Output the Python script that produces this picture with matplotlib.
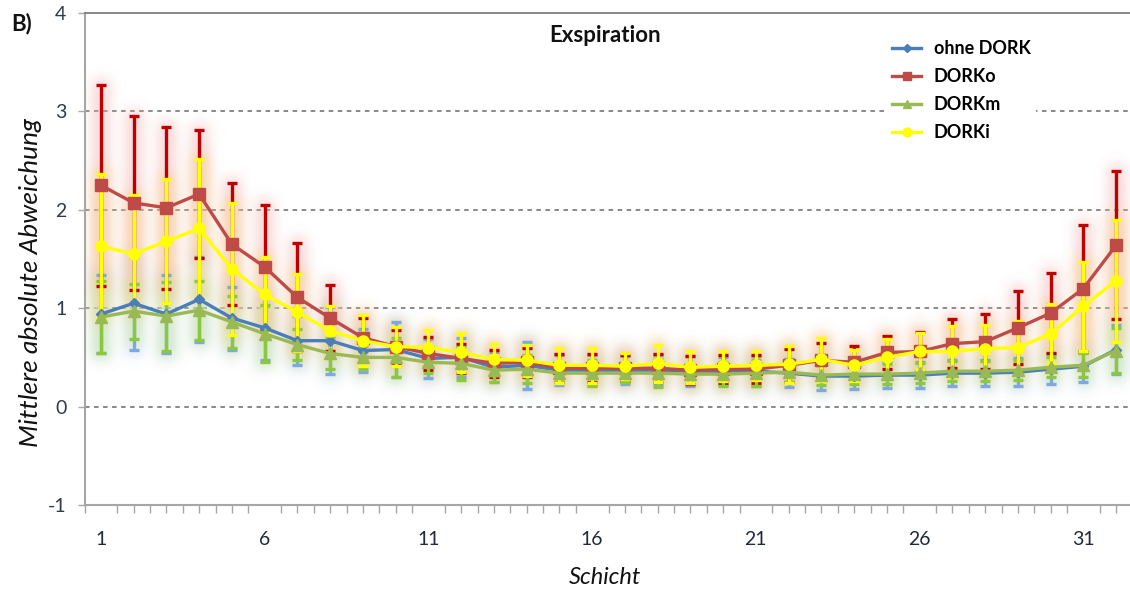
import numpy as np
import matplotlib
matplotlib.use("Agg")
import matplotlib.pyplot as plt
from matplotlib.colors import to_rgb

plt.rcParams['font.family'] = ['Lato', 'DejaVu Sans']

# Schicht (slice index)
schicht = list(range(1, 33))

# mean absolute deviation per slice and its standard deviation
ohne_dork = [0.94, 1.05, 0.94, 1.09, 0.90, 0.80, 0.67, 0.67, 0.57, 0.58, 0.49, 0.50,
             0.40, 0.42, 0.37, 0.37, 0.37, 0.37, 0.36, 0.36, 0.36, 0.34, 0.31, 0.31,
             0.32, 0.32, 0.34, 0.34, 0.35, 0.38, 0.41, 0.58]
ohne_dork_sd = [0.40, 0.47, 0.40, 0.43, 0.32, 0.33, 0.25, 0.34, 0.22, 0.28, 0.20, 0.20,
                0.15, 0.24, 0.15, 0.15, 0.14, 0.15, 0.15, 0.14, 0.15, 0.14, 0.14, 0.13,
                0.13, 0.13, 0.13, 0.13, 0.14, 0.15, 0.16, 0.25]

dorko = [2.25, 2.07, 2.02, 2.16, 1.65, 1.42, 1.11, 0.90, 0.70, 0.61, 0.54, 0.49,
         0.44, 0.45, 0.39, 0.39, 0.39, 0.39, 0.37, 0.38, 0.38, 0.42, 0.47, 0.45,
         0.55, 0.56, 0.64, 0.66, 0.80, 0.95, 1.20, 1.64]
dorko_sd = [1.02, 0.88, 0.82, 0.65, 0.62, 0.63, 0.55, 0.34, 0.20, 0.17, 0.17, 0.15,
            0.14, 0.15, 0.14, 0.14, 0.13, 0.14, 0.14, 0.14, 0.14, 0.17, 0.18, 0.17,
            0.17, 0.20, 0.25, 0.28, 0.37, 0.41, 0.65, 0.75]

dorkm = [0.91, 0.97, 0.92, 0.98, 0.86, 0.74, 0.63, 0.54, 0.50, 0.50, 0.45, 0.44,
         0.37, 0.38, 0.34, 0.34, 0.34, 0.34, 0.33, 0.33, 0.34, 0.35, 0.32, 0.33,
         0.33, 0.34, 0.36, 0.36, 0.37, 0.40, 0.42, 0.57]
dorkm_sd = [0.37, 0.28, 0.35, 0.30, 0.26, 0.29, 0.16, 0.16, 0.12, 0.20, 0.11, 0.17,
            0.12, 0.14, 0.09, 0.13, 0.09, 0.14, 0.09, 0.12, 0.13, 0.10, 0.10, 0.10,
            0.10, 0.10, 0.10, 0.10, 0.10, 0.10, 0.12, 0.23]

dorki = [1.63, 1.55, 1.68, 1.81, 1.40, 1.14, 0.96, 0.77, 0.67, 0.61, 0.60, 0.55,
         0.48, 0.47, 0.42, 0.42, 0.41, 0.44, 0.40, 0.41, 0.42, 0.43, 0.48, 0.42,
         0.50, 0.56, 0.56, 0.59, 0.60, 0.74, 1.02, 1.28]
dorki_sd = [0.73, 0.60, 0.63, 0.71, 0.67, 0.38, 0.39, 0.25, 0.26, 0.20, 0.18, 0.20,
            0.16, 0.16, 0.18, 0.18, 0.13, 0.19, 0.16, 0.15, 0.15, 0.19, 0.22, 0.16,
            0.19, 0.19, 0.26, 0.24, 0.27, 0.30, 0.45, 0.62]

xtick_labels = [1, 6, 11, 16, 21, 26, 31]

series = [
    # label, values, sd, line colour, bar colour, glow colour, marker, marker size
    ("ohne DORK", ohne_dork, ohne_dork_sd, "#4a7ebb", "#7fa8dc", "#bcd2f2", "D", 5),
    ("DORKo", dorko, dorko_sd, "#be4b48", "#c00000", "#f2b0b0", "s", 8),
    ("DORKm", dorkm, dorkm_sd, "#98b954", "#8cc83c", "#c8e898", "^", 8),
    ("DORKi", dorki, dorki_sd, "#ffff00", "#ffff00", "#f6cf80", "o", 8),
]

XLIM = (0.5, 32.5)
YLIM = (-1, 4)
AX_W, AX_H = 1048, 492

fig = plt.figure(figsize=(11.30, 5.91), dpi=100)
ax = fig.add_axes([84.5 / 1130, 86 / 591, AX_W / 1130, AX_H / 591])

x = np.array(schicht, dtype=float)


def gaussian_blur(img, sigma):
    r = int(3 * sigma)
    k = np.exp(-0.5 * (np.arange(-r, r + 1) / sigma) ** 2)
    k /= k.sum()
    out = np.apply_along_axis(lambda m: np.convolve(m, k, mode='same'), 0, img)
    out = np.apply_along_axis(lambda m: np.convolve(m, k, mode='same'), 1, out)
    return out


# soft glow around each error bar, rendered as a blurred raster layer
for label, vals, sd, lc, bc, gc, mk, ms in series:
    mask = np.zeros((AX_H, AX_W))
    for xi, yi, si in zip(x, vals, sd):
        cx = (xi - XLIM[0]) / (XLIM[1] - XLIM[0]) * AX_W
        y0 = (yi - si - YLIM[0]) / (YLIM[1] - YLIM[0]) * AX_H
        y1 = (yi + si - YLIM[0]) / (YLIM[1] - YLIM[0]) * AX_H
        c0, c1 = int(round(cx - 8)), int(round(cx + 8))
        r0, r1 = max(int(round(y0 - 6)), 0), min(int(round(y1 + 6)), AX_H)
        mask[r0:r1, max(c0, 0):min(c1, AX_W)] = 1.0
    glow = gaussian_blur(mask, 6.5)
    alpha = np.clip(glow * 0.55, 0, 0.5)
    rgba = np.zeros((AX_H, AX_W, 4))
    rgba[..., :3] = to_rgb(gc)
    rgba[..., 3] = alpha
    ax.imshow(rgba, origin='lower', extent=(*XLIM, *YLIM), aspect='auto',
              interpolation='bilinear', zorder=1)

# error bars
for label, vals, sd, lc, bc, gc, mk, ms in series:
    ax.errorbar(x, vals, yerr=sd, fmt='none', ecolor=bc, elinewidth=2.4,
                capsize=3.5, capthick=2.4, zorder=3)

# lines with markers
handles = []
for label, vals, sd, lc, bc, gc, mk, ms in series:
    h, = ax.plot(x, vals, color=lc, lw=2.4, marker=mk, markersize=ms,
                 markerfacecolor=lc, markeredgecolor=lc, zorder=4, label=label)
    handles.append(h)

ax.set_xlim(*XLIM)
ax.set_ylim(*YLIM)

# dashed gridlines
for yv in [0, 1, 2, 3]:
    ax.axhline(yv, color="#7f7f7f", lw=1.3, ls=(0, (2.5, 2.5)), zorder=0.5)

ax.set_yticks([-1, 0, 1, 2, 3, 4])
ax.set_yticklabels(["-1", "0", "1", "2", "3", "4"])
ax.set_xticks(xtick_labels)
ax.set_xticklabels([str(t) for t in xtick_labels])
ax.set_xticks(np.arange(0.5, 32.6, 0.5), minor=True)
ax.tick_params(axis='x', which='major', length=0, pad=19, labelsize=14, labelcolor="#1f2a3a")
ax.tick_params(axis='x', which='minor', length=6, width=1, color="#a6a6a6")
ax.tick_params(axis='y', which='major', length=5, width=1, color="#a6a6a6",
               labelsize=14, labelcolor="#2f3a4a", pad=8)

for side in ['left', 'bottom']:
    ax.spines[side].set_color("#a6a6a6")
    ax.spines[side].set_linewidth(1.5)
ax.spines['top'].set_color("#7f7f7f")
ax.spines['top'].set_linewidth(1.3)
ax.spines['right'].set_visible(False)

fig.text(31 / 1130, 1 - 283 / 591, "Mittlere absolute Abweichung", rotation=90,
         ha='center', va='center', fontsize=19, style='italic', color="#111111")
fig.text(605 / 1130, 1 - 577 / 591, "Schicht", ha='center', va='center',
         fontsize=17, style='italic', color="#111111")
fig.text(605 / 1130, 1 - 36 / 591, "Exspiration", ha='center', va='center',
         fontsize=16, fontweight='bold', color="#111111")
fig.text(22 / 1130, 1 - 24 / 591, "B)", ha='center', va='center',
         fontsize=16, fontweight='bold', color="#111111")

leg = ax.legend(handles=handles, loc='upper left',
                bbox_to_anchor=(878 / 1130, 1 - 26 / 591),
                bbox_transform=fig.transFigure, frameon=True, framealpha=1,
                facecolor='white', edgecolor='none', fancybox=False,
                prop={'weight': 'bold', 'size': 13}, handlelength=1.6,
                handletextpad=0.7, labelspacing=0.6, borderpad=0.3,
                markerscale=0.8)

fig.savefig("out.png", dpi=100)
